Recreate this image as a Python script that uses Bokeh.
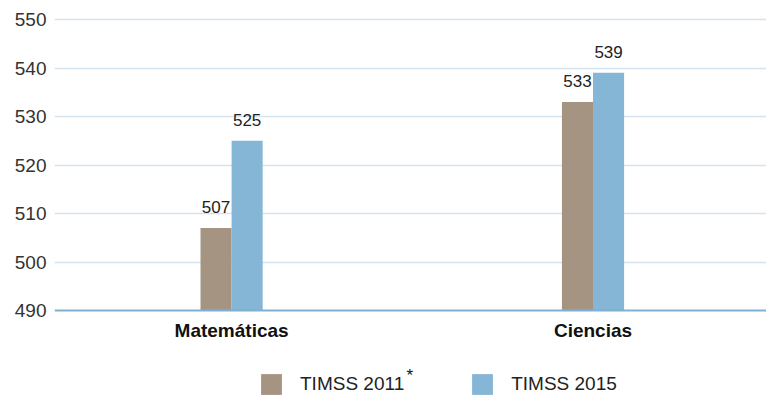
from bokeh.plotting import figure
from bokeh.models import (ColumnDataSource, Range1d, FixedTicker, Legend, LegendItem,
                          Label, Span)
from bokeh.core.properties import value
from bokeh.embed import file_html
from bokeh.resources import INLINE

# Puntajes promedio por área
categories = ["Matemáticas", "Ciencias"]
timss_2011 = [507, 533]
timss_2015 = [525, 539]
y_ticks = [490, 500, 510, 520, 530, 540, 550]
baseline = 490

COLOR_2011 = "#a69483"
COLOR_2015 = "#86b6d6"
FONT = "Liberation Sans"

xs = list(range(len(categories)))
bar_w = 0.086

src = ColumnDataSource(dict(
    x=xs,
    base=[baseline] * len(xs),
    cat=categories,
    x11=[x - bar_w / 2 for x in xs],
    x15=[x + bar_w / 2 for x in xs],
    v11=timss_2011,
    v15=timss_2015,
    t11=[str(v) for v in timss_2011],
    t15=[str(v) for v in timss_2015],
))

# the frame runs to the bottom edge so the legend can sit inside it
p = figure(width=766, height=398, output_backend="svg", toolbar_location=None,
           x_range=Range1d(-0.49, 1.48), y_range=Range1d(471.856, 551.86),
           min_border_left=54, min_border_right=0, min_border_top=10,
           min_border_bottom=0)
p.outline_line_color = None
p.background_fill_color = "white"
p.border_fill_color = "white"

r11 = p.vbar(x="x11", top="v11", bottom=baseline, width=bar_w, source=src,
             fill_color=COLOR_2011, line_color=None)
r15 = p.vbar(x="x15", top="v15", bottom=baseline, width=bar_w, source=src,
             fill_color=COLOR_2015, line_color=None)

for xcol, ycol, tcol in (("x11", "v11", "t11"), ("x15", "v15", "t15")):
    p.text(x=xcol, y=ycol, text=tcol, source=src, y_offset=-21,
           text_align="center", text_baseline="alphabetic",
           text_font=value(FONT), text_font_size="17px", text_color="#222222")

# category names under the baseline
p.text(x="x", y="base", text="cat", source=src, y_offset=20,
       text_align="center", text_baseline="alphabetic",
       text_font=value(FONT), text_font_style="bold", text_font_size="19px",
       text_color="#111111")

p.add_layout(Span(location=baseline, dimension="width", line_color="#7fb0d4",
                  line_width=2))

# y axis; a blank axis label pads the tick labels in from the left edge
p.yaxis.ticker = FixedTicker(ticks=y_ticks)
p.yaxis.axis_line_color = None
p.yaxis.major_tick_line_color = None
p.yaxis.minor_tick_line_color = None
p.yaxis.major_tick_out = 0
p.yaxis.minor_tick_out = 0
p.yaxis.major_label_text_font = FONT
p.yaxis.major_label_text_font_size = "19px"
p.yaxis.major_label_text_color = "#333333"
p.yaxis.major_label_standoff = 8
p.yaxis.axis_label = " "
p.yaxis.axis_label_text_font_size = "1px"
p.yaxis.axis_label_standoff = 7

p.ygrid.ticker = FixedTicker(ticks=y_ticks[1:])
p.ygrid.grid_line_color = "#d6e4f0"
p.ygrid.grid_line_width = 1.5
p.xgrid.grid_line_color = None
p.xaxis.visible = False

legend = Legend(items=[LegendItem(label="TIMSS 2011", renderers=[r11]),
                       LegendItem(label="TIMSS 2015", renderers=[r15])],
                orientation="horizontal", location=(204, 1),
                glyph_width=26, glyph_height=26, spacing=65,
                label_text_font=FONT, label_text_font_size="19px",
                label_text_color="#222222", label_standoff=16,
                border_line_color=None, background_fill_alpha=0,
                padding=0, margin=0)
p.add_layout(legend, "center")

p.add_layout(Label(x=352, y=33, x_units="screen", y_units="screen", text="*",
                   text_baseline="top", text_font=FONT, text_font_size="17px",
                   text_color="#111111"))

open("out.html", "w").write(file_html(p, INLINE))
